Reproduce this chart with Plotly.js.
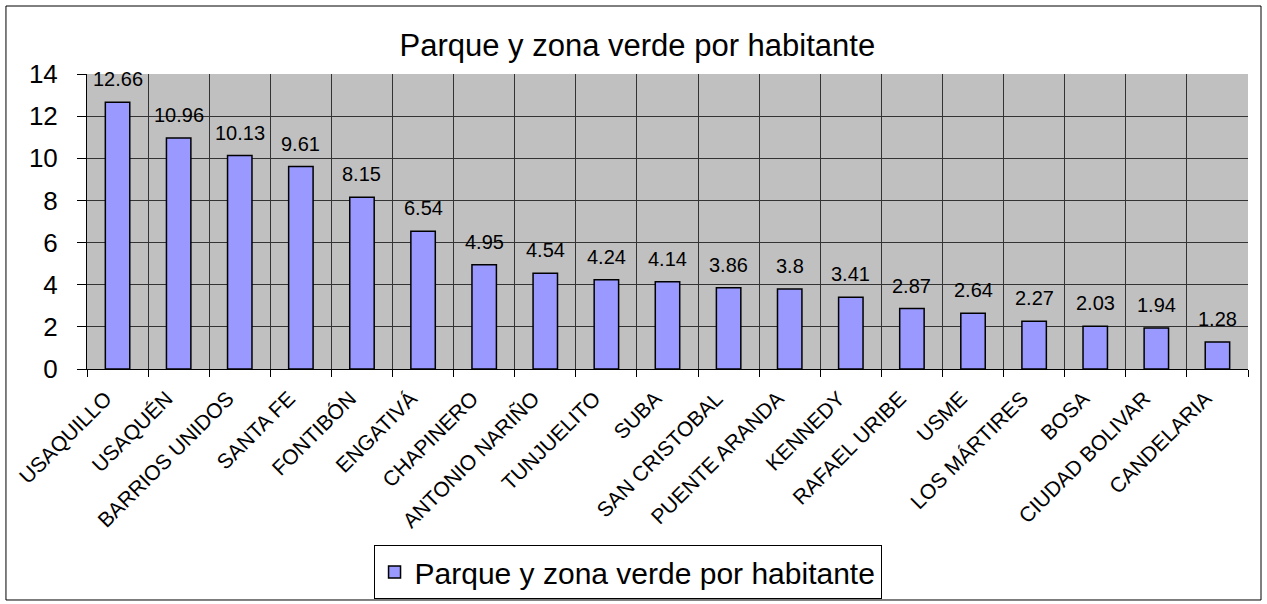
<!DOCTYPE html>
<html>
<head>
<meta charset="utf-8">
<script src="https://cdn.plot.ly/plotly-3.0.1.min.js"></script>
<style>body{margin:0;background:#fff}</style>
</head>
<body>
<div id="myDiv1" style="width:1267px;height:604px"></div>
<script>
localidades = ['USAQUILLO','USAQUÉN','BARRIOS UNIDOS','SANTA FE','FONTIBÓN','ENGATIVÁ',
  'CHAPINERO','ANTONIO NARIÑO','TUNJUELITO','SUBA','SAN CRISTOBAL','PUENTE ARANDA',
  'KENNEDY','RAFAEL URIBE','USME','LOS MÁRTIRES','BOSA','CIUDAD BOLIVAR','CANDELARIA']
valores = [12.66,10.96,10.13,9.61,8.15,6.54,4.95,4.54,4.24,4.14,3.86,3.8,3.41,2.87,2.64,2.27,2.03,1.94,1.28]
yTicks = [0,2,4,6,8,10,12,14]

trace1 = {
    x: localidades,
    y: valores,
    name: 'Parque y zona verde por habitante',
    type: 'bar',
    marker: {color: '#9999ff', line: {color: '#000', width: 1.5}}
}

// etiquetas de datos encima de cada barra
etiquetas = localidades.map(function(c, i) {
    return {x: c, y: valores[i], text: String(valores[i]), showarrow: false,
            yanchor: 'bottom', yshift: 10, font: {size: 20, color: '#000'}}
})

Plotly.newPlot('myDiv1', [trace1], {
    width: 1267, height: 604,
    font: {family: 'Liberation Sans, Arial, sans-serif', color: '#000'},
    margin: {l: 87, r: 19, t: 74, b: 235},
    paper_bgcolor: '#fff',
    plot_bgcolor: '#c0c0c0',
    bargap: 0.6,
    title: {text: 'Parque y zona verde por habitante', font: {size: 31}, x: 0.503, xanchor: 'center', y: 0.925, yanchor: 'middle'},
    xaxis: {
        type: 'category', tickson: 'boundaries', tickangle: -45, automargin: false,
        ticks: 'outside', ticklen: 7, tickcolor: '#000',
        ticklabelstandoff: 8, ticklabelshift: -12,
        showgrid: true, gridcolor: '#333', gridwidth: 1,
        showline: true, linecolor: '#000', tickfont: {size: 21}
    },
    yaxis: {
        range: [0, 14], tickvals: yTicks, ticks: 'outside', ticklen: 9, tickcolor: '#000',
        ticklabelstandoff: 14, automargin: false,
        showgrid: true, gridcolor: '#333', gridwidth: 1, zeroline: false,
        showline: true, linecolor: '#000', tickfont: {size: 26}
    },
    showlegend: true,
    legend: {
        xref: 'container', yref: 'container',
        x: 0.4953, xanchor: 'center', y: 0.0977, yanchor: 'top', orientation: 'h',
        bordercolor: '#000', borderwidth: 1, bgcolor: '#fff', font: {size: 30}
    },
    annotations: etiquetas,
    shapes: [{type: 'rect', xref: 'paper', yref: 'paper',
              x0: -0.0698, x1: 1.0112, y0: -0.783, y1: 1.2305,
              line: {color: '#000', width: 1}}]
}, {staticPlot: true});
</script>
</body>
</html>
